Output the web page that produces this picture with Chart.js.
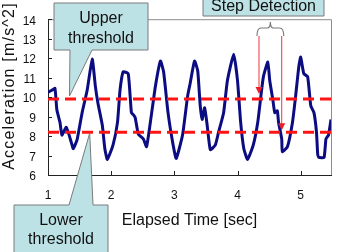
<!DOCTYPE html>
<html>
<head>
<meta charset="utf-8">
<script src="https://cdn.jsdelivr.net/npm/chart.js@4.4.1/dist/chart.umd.min.js"></script>
<style>
    html, body { margin: 0; padding: 0; background: #fff; }
    canvas { display: block; }
</style>
</head>
<body>
<canvas id="graficoPassos" width="338" height="252"></canvas>
<script>
// dados
const tempoSeg = [1.00, 1.06, 1.11, 1.14, 1.19, 1.22, 1.29, 1.38, 1.40, 1.46, 1.54, 1.62, 1.70, 1.75, 1.79, 1.86, 1.90, 1.94,
    2.03, 2.10, 2.14, 2.19, 2.27, 2.32, 2.35, 2.38, 2.43, 2.51, 2.56, 2.62, 2.70, 2.78, 2.83, 2.90, 2.98,
    3.03, 3.13, 3.21, 3.25, 3.32, 3.37, 3.41, 3.44, 3.48, 3.52, 3.57, 3.65, 3.70, 3.78, 3.84, 3.94,
    4.00, 4.05, 4.10, 4.16, 4.25, 4.32, 4.37, 4.41, 4.48, 4.51, 4.56, 4.59, 4.63, 4.65, 4.70, 4.71, 4.79, 4.87, 4.92, 4.97,
    5.00, 5.05, 5.11, 5.16, 5.21, 5.25, 5.27, 5.29, 5.37, 5.40, 5.44, 5.48];
const aceleracao = [10.25, 10.35, 10.45, 9.35, 8.7, 8.05, 8.45, 7.55, 7.35, 7.8, 9.2, 10.35, 11.95, 10.55, 9.7, 8.55, 7.35, 6.8,
    7.55, 8.7, 10.35, 11.3, 11.2, 9.2, 9.1, 8.95, 8.1, 7.85, 7.45, 8.7, 10.55, 11.85, 11.3, 9.2, 7.55,
    6.85, 8.05, 10.05, 10.7, 11.85, 11.35, 9.55, 8.85, 9.45, 8.55, 7.3, 7.55, 8.2, 9.2, 10.85, 12.2,
    10.85, 8.7, 7.35, 6.8, 7.55, 8.7, 10.05, 11.05, 11.8, 10.85, 9.85, 9.2, 9.3, 8.7, 7.85, 7.2, 7.45, 8.7, 10.05, 11.55,
    12.05, 11.2, 11.05, 9.55, 9.2, 8.2, 7.05, 6.9, 6.9, 7.85, 8.05, 8.85];
const limiteSuperior = 9.9;
const limiteInferior = 8.2;
const faixaTempo = [1, 5.48];
const faixaAcel = [6, 14];
const marcasPasso = [4.34, 4.70];
const tempoBalaoSup = 1.34;
const tempoBalaoInf = 1.66;

const fonte = '"Liberation Sans", Arial, sans-serif';
const corBalao = "#bde2e6";
const corBordaBalao = "#7a7a7a";

let pontosAcel = [];
for (let i = 0; i < tempoSeg.length; i++) {
    pontosAcel.push({ x: tempoSeg[i], y: aceleracao[i] });
}

function linhaLimite(valor) {
    return [{ x: faixaTempo[0], y: valor }, { x: faixaTempo[1], y: valor }];
}

function desenharBalao(ctx, pontos) {
    ctx.beginPath();
    ctx.moveTo(pontos[0][0], pontos[0][1]);
    for (let i = 1; i < pontos.length; i++) ctx.lineTo(pontos[i][0], pontos[i][1]);
    ctx.closePath();
    ctx.fillStyle = corBalao;
    ctx.fill();
    ctx.strokeStyle = corBordaBalao;
    ctx.lineWidth = 1;
    ctx.stroke();
}

function setaVermelha(ctx, x, y1, y2) {
    ctx.strokeStyle = "#e8383d";
    ctx.fillStyle = "#e8202a";
    ctx.lineWidth = 1;
    ctx.beginPath();
    ctx.moveTo(x, y1);
    ctx.lineTo(x, y2 - 6);
    ctx.stroke();
    ctx.beginPath();
    ctx.moveTo(x - 3.5, y2 - 7);
    ctx.lineTo(x + 3.5, y2 - 7);
    ctx.lineTo(x, y2);
    ctx.closePath();
    ctx.fill();
}

const anotacoes = {
    id: "anotacoes",
    afterDatasetsDraw(chart) {
        const ctx = chart.ctx;
        const area = chart.chartArea;
        const sx = chart.scales.x;
        const sy = chart.scales.y;
        ctx.save();
        // moldura cinza em cima e na direita
        ctx.strokeStyle = "#8c8c8c";
        ctx.lineWidth = 1;
        ctx.beginPath();
        ctx.moveTo(area.left, area.top + 0.5);
        ctx.lineTo(area.right + 0.5, area.top + 0.5);
        ctx.lineTo(area.right + 0.5, area.bottom);
        ctx.stroke();
        // marcas dos ticks para dentro
        ctx.strokeStyle = "#222";
        ctx.beginPath();
        sy.ticks.forEach(t => {
            const py = Math.round(sy.getPixelForValue(t.value)) + 0.5;
            ctx.moveTo(area.left, py);
            ctx.lineTo(area.left + 4, py);
        });
        sx.ticks.forEach(t => {
            const px = Math.round(sx.getPixelForValue(t.value)) + 0.5;
            ctx.moveTo(px, area.bottom);
            ctx.lineTo(px, area.bottom - 4);
        });
        ctx.stroke();
        ctx.restore();
    },
    afterDraw(chart) {
        const ctx = chart.ctx;
        const sx = chart.scales.x;
        const sy = chart.scales.y;
        ctx.save();

        // titulo do eixo y
        ctx.save();
        ctx.translate(10, 86);
        ctx.rotate(-Math.PI / 2);
        ctx.font = "16px " + fonte;
        ctx.letterSpacing = "1.2px";
        ctx.fillStyle = "#111";
        ctx.textAlign = "center";
        ctx.textBaseline = "middle";
        ctx.fillText("Acceleration [m/s^2]", 0, 0);
        ctx.restore();

        // balao limite superior
        const ySup = sy.getPixelForValue(limiteSuperior);
        const pxSup = sx.getPixelForValue(tempoBalaoSup);
        desenharBalao(ctx, [[54, 3], [148, 3], [148, 50], [92, 50], [pxSup, ySup - 3], [70, 50], [54, 50]]);

        // balao limite inferior
        const yInf = sy.getPixelForValue(limiteInferior);
        const pxInf = sx.getPixelForValue(tempoBalaoInf);
        desenharBalao(ctx, [[14, 205], [69, 205], [pxInf, yInf + 1], [93, 205], [108, 205], [108, 262], [14, 262]]);

        // caixa step detection
        desenharBalao(ctx, [[203, -5], [324, -5], [324, 16], [203, 16]]);

        ctx.font = "16px " + fonte;
        ctx.fillStyle = "#111";
        ctx.textAlign = "center";
        ctx.textBaseline = "middle";
        ctx.fillText("Upper", 101, 19);
        ctx.fillText("threshold", 101, 39);
        ctx.fillText("Lower", 61, 221);
        ctx.fillText("threshold", 61, 240);
        ctx.fillText("Step Detection", 263.5, 7);

        // chave
        const xa = sx.getPixelForValue(marcasPasso[0]);
        const xb = sx.getPixelForValue(marcasPasso[1]);
        const xm = (xa + xb) / 2;
        ctx.strokeStyle = "#7a7a7a";
        ctx.lineWidth = 1.2;
        ctx.beginPath();
        ctx.moveTo(xa - 2, 36);
        ctx.quadraticCurveTo(xa - 2, 28, xa + 2, 28);
        ctx.lineTo(xm - 3, 28);
        ctx.quadraticCurveTo(xm, 28, xm, 22);
        ctx.quadraticCurveTo(xm, 28, xm + 3, 28);
        ctx.lineTo(xb - 2, 28);
        ctx.quadraticCurveTo(xb + 2, 28, xb + 2, 36);
        ctx.stroke();

        setaVermelha(ctx, xa, 36, ySup - 5);
        setaVermelha(ctx, xb, 36, yInf - 2);

        ctx.restore();
    }
};

new Chart(document.getElementById("graficoPassos"), {
    type: "line",
    data: {
        datasets: [
            {
                label: "Limite superior",
                data: linhaLimite(limiteSuperior),
                borderColor: "#ff1414",
                borderWidth: 3,
                borderDash: [11, 6],
                pointRadius: 0,
                order: 0
            },
            {
                label: "Limite inferior",
                data: linhaLimite(limiteInferior),
                borderColor: "#ff1414",
                borderWidth: 3,
                borderDash: [11, 6],
                pointRadius: 0,
                order: 0
            },
            {
                label: "Aceleração",
                data: pontosAcel,
                borderColor: "#0c0c82",
                borderWidth: 3,
                borderJoinStyle: "round",
                pointRadius: 0,
                tension: 0.15,
                order: 1
            }
        ]
    },
    options: {
        responsive: false,
        animation: false,
        layout: { padding: { left: 0, top: 14, right: 7, bottom: 0 } },
        plugins: {
            legend: { display: false },
            tooltip: { enabled: false }
        },
        scales: {
            x: {
                type: "linear",
                min: faixaTempo[0],
                max: faixaTempo[1],
                afterFit: s => { s.height = 77; },
                grid: { display: true, drawOnChartArea: false, drawTicks: false },
                border: { display: true, color: "#222", width: 1 },
                ticks: {
                    stepSize: 1,
                    includeBounds: false,
                    autoSkip: false,
                    maxRotation: 0,
                    padding: 13,
                    color: "#111",
                    font: { family: fonte, size: 12 }
                },
                title: {
                    display: true,
                    text: "Elapsed Time [sec]",
                    color: "#111",
                    font: { family: fonte, size: 16 },
                    padding: { top: 0, bottom: 22 }
                }
            },
            y: {
                min: faixaAcel[0],
                max: faixaAcel[1],
                afterFit: s => { s.width = 48; },
                grid: { display: true, drawOnChartArea: false, drawTicks: false },
                border: { display: true, color: "#222", width: 1 },
                ticks: {
                    stepSize: 1,
                    padding: 12,
                    labelOffset: 2,
                    color: "#111",
                    font: { family: fonte, size: 12 }
                }
            }
        }
    },
    plugins: [anotacoes]
});
</script>
</body>
</html>
